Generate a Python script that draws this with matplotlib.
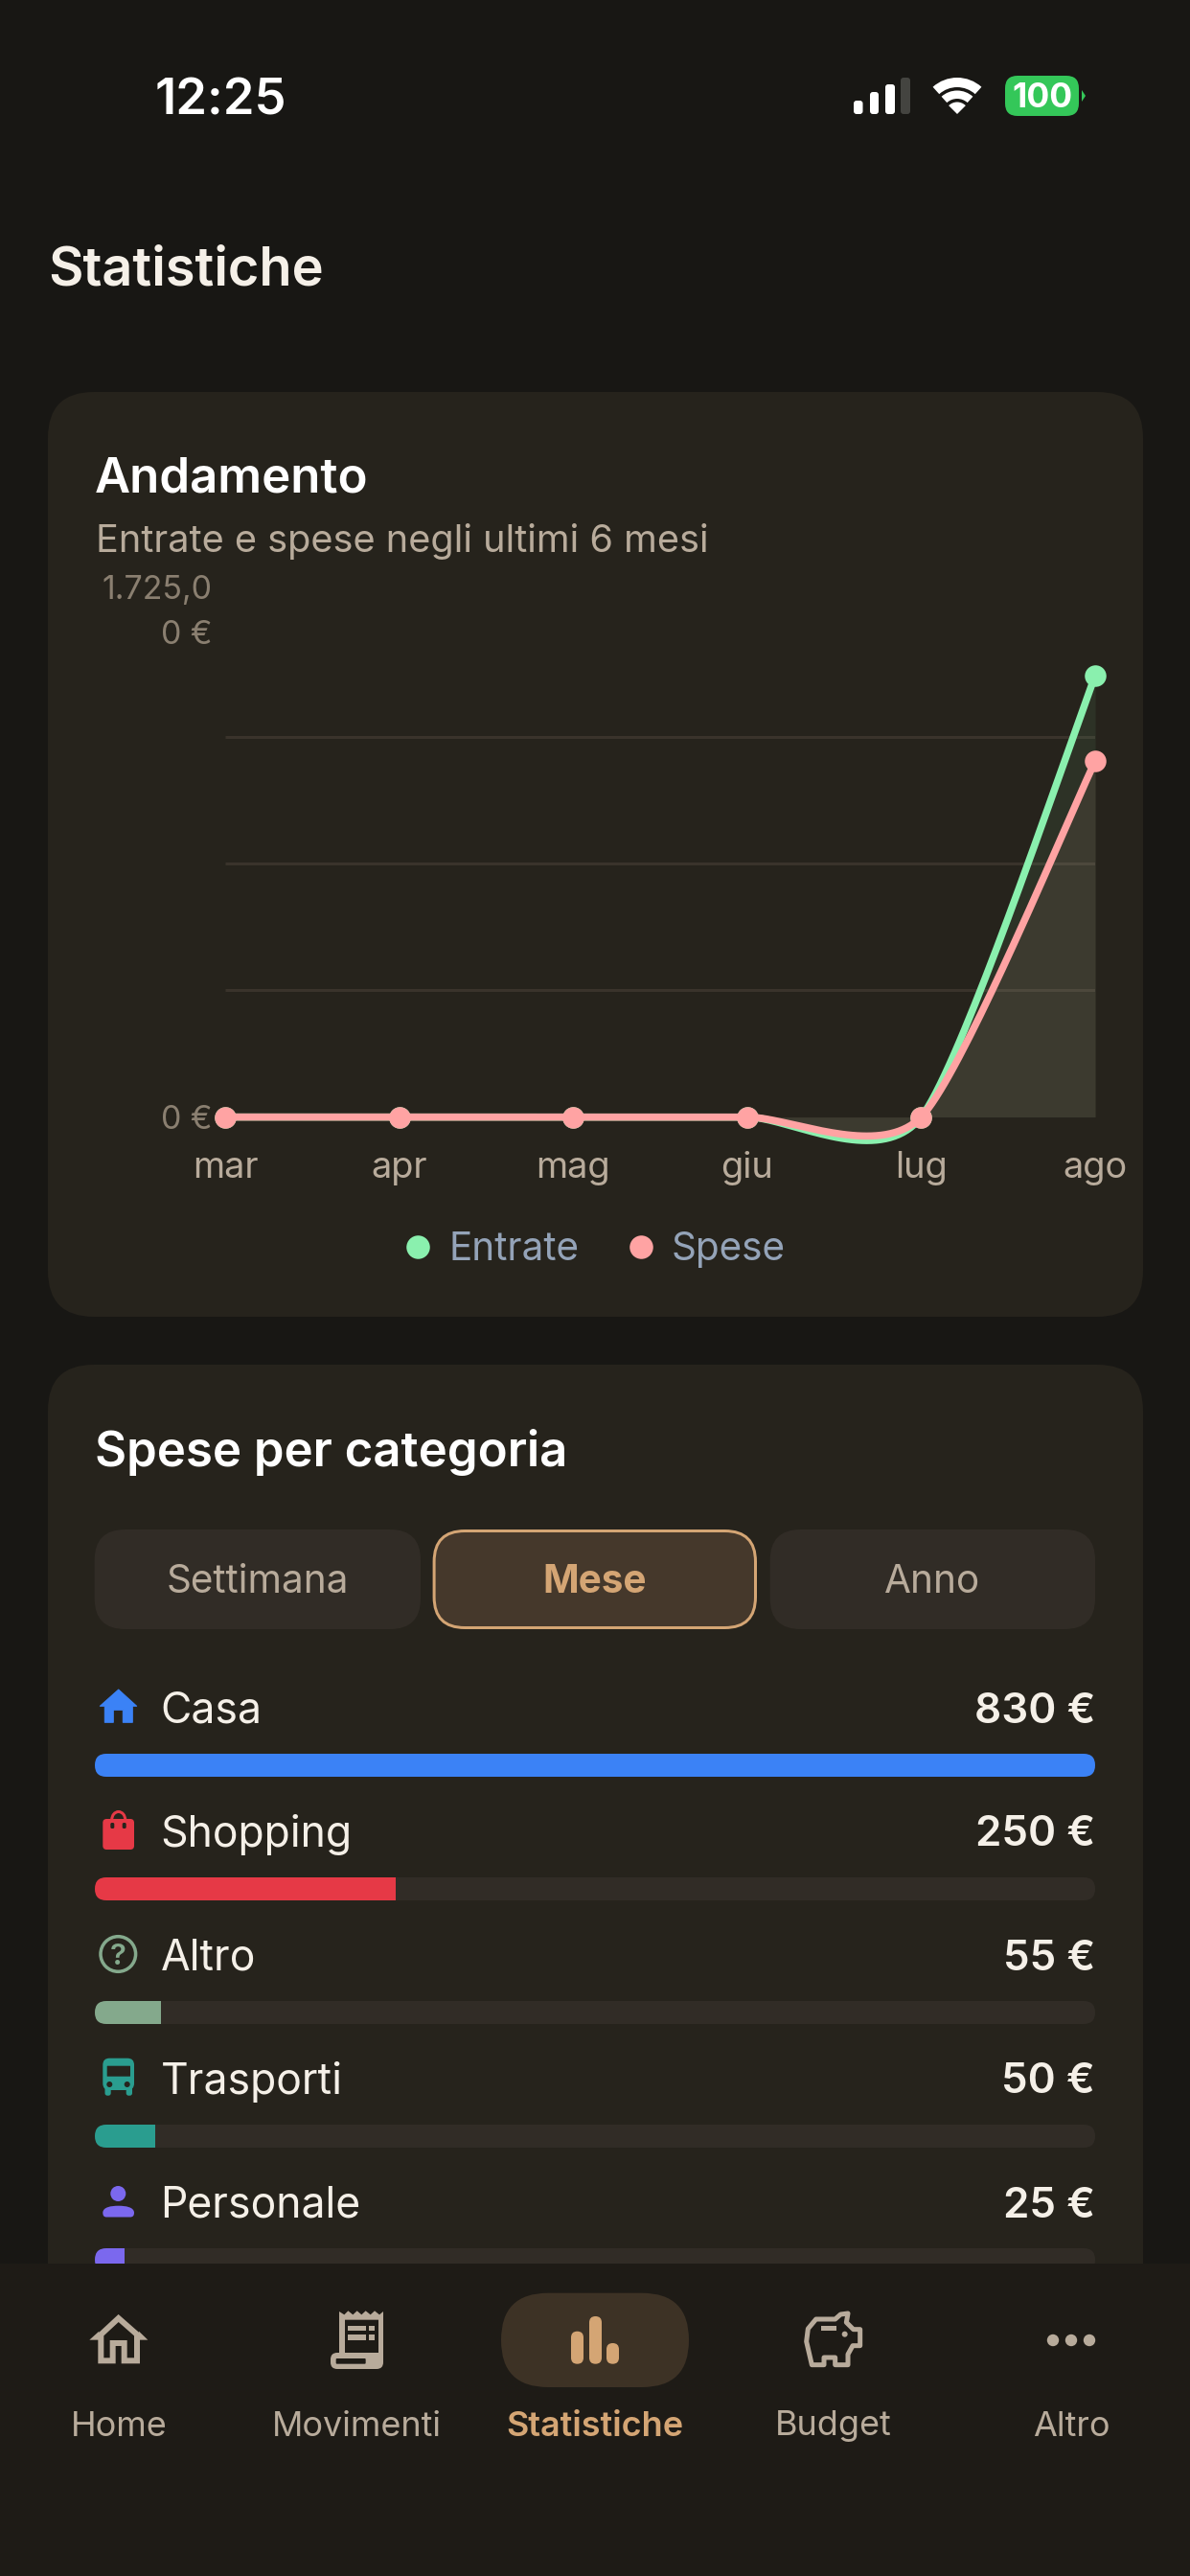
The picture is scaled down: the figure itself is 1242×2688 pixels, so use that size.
import numpy as np
import matplotlib
matplotlib.use("Agg")
import matplotlib.pyplot as plt
from matplotlib.patches import FancyBboxPatch, Circle, Polygon, Wedge, Rectangle, PathPatch
from matplotlib.path import Path
from matplotlib.lines import Line2D
from matplotlib.patches import Ellipse
from matplotlib.transforms import ScaledTranslation

# ---------- data ----------
months = ["mar", "apr", "mag", "giu", "lug", "ago"]
entrate = [0, 0, 0, 0, 0, 1500]
spese = [0, 0, 0, 0, 0, 1210]
y_max = 1725
y_labels = {0: "0 €", 1725: "1.725,0\n0 €"}
categories = ["Casa", "Shopping", "Altro", "Trasporti", "Personale"]
amounts = [830, 250, 55, 50, 25]
cat_colors = ["#3B82F6", "#E63946", "#84A98C", "#2A9D8F", "#7B68EE"]
periods = ["Settimana", "Mese", "Anno"]
nav_labels = ["Home", "Movimenti", "Statistiche", "Budget", "Altro"]

# ---------- palette ----------
BG = "#181714"; CARD = "#26231C"; TRACK = "#312C26"; NAV = "#1E1B16"
CREAM = "#F5F0E8"; MUTED = "#B8AB9B"; DIM = "#8A7F70"; ACCENT = "#D4A574"
GREEN = "#8AF0AE"; PINK = "#FFA3A3"; SLATE = "#94A3B8"; GRID = "#3A332B"

W, H = 1242, 2688
plt.rcParams["font.family"] = ["Inter", "DejaVu Sans"]
fig = plt.figure(figsize=(W / 100, H / 100), dpi=100, facecolor=BG)

def px(v):
    return v * 0.72

def axes_px(x0, y0, x1, y1, **kw):
    return fig.add_axes([x0 / W, 1 - y1 / H, (x1 - x0) / W, (y1 - y0) / H], **kw)

def ui_axes(z):
    a = axes_px(0, 0, W, H, zorder=z)
    a.set_xlim(0, W); a.set_ylim(H, 0); a.axis("off")
    a.patch.set_alpha(0)
    return a

def rrect(a, x0, y0, x1, y1, r, fc, ec="none", lw=0, z=1):
    p = FancyBboxPatch((x0 + r, y0 + r), x1 - x0 - 2 * r, y1 - y0 - 2 * r,
                       boxstyle=f"round,pad={r},rounding_size={r}", fc=fc, ec=ec, lw=lw, zorder=z)
    a.add_patch(p)
    return p

def label(a, x, y, s, size, color, weight=400, ha="left", z=5):
    return a.text(x, y, s, fontsize=px(size), color=color, fontweight=weight, ha=ha, va="baseline", zorder=z)

ui = ui_axes(0)

# ---------- status bar ----------
label(ui, 162, 119, "12:25", 52.5, "#FFFFFF", 600)
for (x0, x1, top, col) in [(891, 900.5, 105, "#FFFFFF"), (908, 917, 96, "#FFFFFF"),
                           (924, 934, 88, "#FFFFFF"), (940, 950, 81, "#444440")]:
    rrect(ui, x0, top, x1, 119, 3, col)
for r0, r1 in [(28, 38), (16, 24.5)]:
    ui.add_patch(Wedge((999, 119), r1, 228, 312, width=r1 - r0, fc="#FFFFFF", ec="none"))
ui.add_patch(Wedge((999, 119), 12.5, 225, 315, fc="#FFFFFF", ec="none"))
rrect(ui, 1049, 79, 1126, 121, 13, "#34C759")
ui.add_patch(Polygon([(1129, 94), (1133, 100), (1129, 106)], fc="#34C759", ec="none"))
label(ui, 1087.5, 112.5, "100", 35.5, "#FFFFFF", 700, ha="center")

# ---------- header and cards ----------
label(ui, 50, 297, "Statistiche", 56, CREAM, 600)
rrect(ui, 50, 409, 1193, 1374, 48, CARD)
rrect(ui, 50, 1424, 1193, 2500, 48, CARD)
label(ui, 99, 513, "Andamento", 51, "#FFFFFF", 600)
label(ui, 100, 576.5, "Entrate e spese negli ultimi 6 mesi", 39.7, MUTED)

# ---------- line chart ----------
CHART_X0, CHART_X1, CHART_TOP, CHART_BASE = 235, 1143, 636.4, 1165.6
ax = axes_px(CHART_X0, CHART_TOP, CHART_X1, CHART_BASE, zorder=1)
ax.patch.set_alpha(0)
ax.set_xlim(0, len(months) - 1)
ax.set_ylim(0, y_max)
for s in ax.spines.values():
    s.set_visible(False)

def smooth(values, c=0.12, n=40):
    """Cubic bezier through the data points, tangent = c * (next - prev)."""
    xs = np.arange(len(values), dtype=float)
    ys = np.asarray(values, dtype=float)
    out_x, out_y = [], []
    for i in range(len(ys) - 1):
        pi, ni = max(i - 1, 0), min(i + 2, len(ys) - 1)
        p0 = (xs[i], ys[i]); p3 = (xs[i + 1], ys[i + 1])
        p1 = (p0[0] + c * (xs[i + 1] - xs[pi]), p0[1] + c * (ys[i + 1] - ys[pi]))
        p2 = (p3[0] - c * (xs[ni] - xs[i]), p3[1] - c * (ys[ni] - ys[i]))
        t = np.linspace(0, 1, n)
        b = lambda a0, a1, a2, a3: (1 - t) ** 3 * a0 + 3 * (1 - t) ** 2 * t * a1 + 3 * (1 - t) * t ** 2 * a2 + t ** 3 * a3
        out_x.append(b(p0[0], p1[0], p2[0], p3[0])); out_y.append(b(p0[1], p1[1], p2[1], p3[1]))
    return np.concatenate(out_x), np.concatenate(out_y)

idx = np.arange(len(months))
for g in np.arange(1, 4) * y_max / 4:
    ax.plot([idx[0], idx[-1]], [g, g], color=GRID, lw=px(3), zorder=1, solid_capstyle="butt")
for vals, col, z in [(entrate, GREEN, 3), (spese, PINK, 4)]:
    sx, sy = smooth(vals)
    ax.fill_between(sx, sy, 0, color=col, alpha=0.075, lw=0, zorder=2, clip_on=False)
    ax.plot(sx, sy, color=col, lw=px(7.5), zorder=z, clip_on=False, solid_capstyle="round")
    ax.plot(idx, vals, ls="", marker="o", ms=px(22.5), mfc=col, mec="none", zorder=z, clip_on=False)

ax.set_xticks(idx)
ax.set_xticklabels(months, color=MUTED, fontsize=px(38), va="baseline")
ax.tick_params(axis="x", length=0, pad=px(63))
ax.set_yticks(list(y_labels))
ax.set_yticklabels(list(y_labels.values()), color=DIM, fontsize=px(34), ha="right",
                   va="center", linespacing=1.62)
ax.tick_params(axis="y", length=0, pad=px(14))
shift = ScaledTranslation(0, -px(3) / 72, fig.dpi_scale_trans)
for t in ax.get_yticklabels():
    t.set_transform(t.get_transform() + shift)
handles = [Line2D([], [], ls="", marker="o", ms=px(24.5), mfc=GREEN, mec="none"),
           Line2D([], [], ls="", marker="o", ms=px(24.5), mfc=PINK, mec="none")]
leg = ax.legend(handles, ["Entrate", "Spese"], ncol=2, frameon=False, loc="center",
                bbox_to_anchor=((621 - CHART_X0) / (CHART_X1 - CHART_X0), (CHART_BASE - 1304) / (CHART_BASE - CHART_TOP)),
                prop={"size": px(40.5)}, labelcolor=SLATE, handlelength=0.7, handletextpad=0.45, columnspacing=1.23,
                borderaxespad=0, borderpad=0)

# ---------- period selector ----------
label(ui, 99, 1529.5, "Spese per categoria", 51, "#FFFFFF", 600)
btn = [(98.7, 439), (451.6, 790), (803.7, 1143)]
for i, (name, (x0, x1)) in enumerate(zip(periods, btn)):
    active = name == "Mese"
    rrect(ui, x0 + (1.5 if active else 0), 1597.5 if active else 1596, x1 - (1.5 if active else 0),
          1698.5 if active else 1700, 32, "#45382B" if active else TRACK,
          ec=ACCENT if active else "none", lw=px(3) if active else 0)
    label(ui, (x0 + x1) / 2, 1662, name, 40.5, ACCENT if active else MUTED, 700 if active else 400, ha="center")

# ---------- category bars ----------
BAR_X0, BAR_X1, ROW0, ROW_STEP, BAR_H = 99, 1143, 1830, 129, 24
bx = axes_px(BAR_X0, ROW0 + BAR_H / 2 - ROW_STEP / 2, BAR_X1, ROW0 + BAR_H / 2 + ROW_STEP * (len(amounts) - 0.5), zorder=1)
bx.patch.set_alpha(0)
bx.axis("off")
bx.set_xlim(0, max(amounts))
bx.set_ylim(len(amounts) - 0.5, -0.5)
for i, (cat, amt, col) in enumerate(zip(categories, amounts, cat_colors)):
    top = ROW0 + i * ROW_STEP
    track = rrect(ui, BAR_X0, top, BAR_X1, top + BAR_H, BAR_H / 2, TRACK)
    bars = bx.barh([i], [amt], height=BAR_H / ROW_STEP, color=col, lw=0)
    bars[0].set_clip_path(track)
    base = top - 32.5
    label(ui, 167.5, base, cat, 44.5, CREAM)
    label(ui, 1143, base, f"{amt} €", 44, CREAM, 600, ha="right")

# icons of the categories
BLUE, RED, SAGE, TEAL, VIOLET = cat_colors
ui.add_patch(Polygon([(123.7, 1763), (142.7, 1780.3), (138.3, 1780.3), (138.3, 1797.3), (128.3, 1797.3), (128.3, 1784.3),
                      (118.3, 1784.3), (118.3, 1797.3), (109.3, 1797.3), (109.3, 1780.3), (104.3, 1780.3)],
                     fc=BLUE, ec=BLUE, lw=px(1), joinstyle="round"))
rrect(ui, 107.3, 1898, 140, 1930, 4, RED)
ui.add_patch(Ellipse((123.7, 1899), 14, 17, fc="none", ec=RED, lw=px(3)))
for cx in (117.3, 129.7):
    rrect(ui, cx - 2, 1902, cx + 2, 1908, 1.5, CARD, z=2)
ui.add_patch(Circle((123.3, 2039), 18.3, fc="none", ec=SAGE, lw=px(3.5)))
label(ui, 123.3, 2050, "?", 31, SAGE, 600, ha="center")
rrect(ui, 107.3, 2147.7, 140, 2181, 7, TEAL)
rrect(ui, 109.5, 2176, 115.7, 2186.7, 2.5, TEAL)
rrect(ui, 131.7, 2176, 138, 2186.7, 2.5, TEAL)
rrect(ui, 111.7, 2155.7, 136, 2166.7, 0.5, CARD, z=2)
for cx in (114.3, 132.7):
    ui.add_patch(Circle((cx, 2175), 3, fc=CARD, ec="none", zorder=2))
ui.add_patch(Circle((123.3, 2289), 8, fc=VIOLET, ec="none"))
body = Path([(107.3, 2309), (107.3, 2303), (116, 2301.7), (123.7, 2301.7), (131, 2301.7), (140, 2303), (140, 2309),
             (140, 2313.5), (136, 2313.5), (111, 2313.5), (107.3, 2313.5), (107.3, 2309)],
            [Path.MOVETO, Path.CURVE4, Path.CURVE4, Path.CURVE4, Path.CURVE4, Path.CURVE4, Path.CURVE4,
             Path.CURVE3, Path.CURVE3, Path.LINETO, Path.CURVE3, Path.CURVE3])
ui.add_patch(PathPatch(body, fc=VIOLET, ec="none"))

# ---------- navigation bar ----------
nav = ui_axes(2)
NAV_TOP = 2362
nav.add_patch(Rectangle((0, NAV_TOP), W, H - NAV_TOP, fc=NAV, ec="none"))
rrect(nav, 523, 2392.7, 719, 2491, 49, "#3D3225", z=2)
for x0, top in [(596, 2432.7), (615, 2417), (633, 2445)]:
    rrect(nav, x0, top, x0 + 13, 2466.7, 6.5, ACCENT, z=3)
nav_x = [124, 372, 621, 870, 1118]
for name, x in zip(nav_labels, nav_x):
    label(nav, x, 2541.5, name, 36, ACCENT if name == "Statistiche" else MUTED, 600 if name == "Statistiche" else 400, ha="center")

def zoomed(pts, ox, oy):
    return [(ox + a / 3, oy + b / 3) for a, b in pts]

ICON_LW = px(6)
# home
nav.add_patch(Polygon(zoomed([(76, 190), (76, 108), (131, 57), (189, 108), (189, 190), (149, 190), (149, 135), (113, 135), (113, 190)], 80, 2400),
                      closed=True, fc="none", ec=MUTED, lw=ICON_LW, joinstyle="miter", zorder=3))
nav.add_patch(Polygon(zoomed([(40, 125), (70, 98), (70, 125)], 80, 2400), fc=MUTED, ec="none", zorder=3))
nav.add_patch(Polygon(zoomed([(223, 125), (195, 98), (195, 125)], 80, 2400), fc=MUTED, ec="none", zorder=3))
# receipt
teeth = [(822, 36), (838, 46), (850, 34), (865, 46), (878, 34), (892, 46), (905, 34), (920, 46), (933, 34), (948, 46), (960, 36), (960, 62), (822, 62)]
nav.add_patch(Polygon(zoomed(teeth, 80, 2400), fc=MUTED, ec="none", zorder=3))
nav.add_patch(Rectangle((80 + 822 / 3, 2400 + 50 / 3), 18 / 3, 125 / 3, fc=MUTED, ec="none", zorder=3))
nav.add_patch(Rectangle((80 + 945 / 3, 2400 + 50 / 3), 15 / 3, 145 / 3, fc=MUTED, ec="none", zorder=3))
rrect(nav, 80 + 795 / 3, 2400 + 165 / 3, 80 + 960 / 3, 2400 + 216 / 3, 7, MUTED, z=3)
rrect(nav, 80 + 812 / 3, 2400 + 183 / 3, 80 + 905 / 3, 2400 + 200 / 3, 1, NAV, z=4)
nav.add_patch(Rectangle((80 + 905 / 3, 2400 + 165 / 3), 40 / 3, 18 / 3, fc=MUTED, ec="none", zorder=3))
nav.add_patch(Rectangle((80 + 840 / 3, 2400 + 62 / 3), 105 / 3, 103 / 3, fc=NAV, ec="none", zorder=2.5))
for (a, b, c, d) in [(850, 80, 905, 97), (850, 107, 905, 125), (915, 80, 933, 97), (915, 107, 933, 125)]:
    nav.add_patch(Rectangle((80 + a / 3, 2400 + b / 3), (c - a) / 3, (d - b) / 3, fc=MUTED, ec="none", zorder=4))
# piggy bank
pig = zoomed([(65, 130), (70, 90), (95, 60), (155, 60), (172, 45), (195, 42), (190, 70), (212, 92), (233, 92), (233, 143),
              (210, 143), (195, 170), (195, 203), (155, 203), (155, 180), (120, 180), (120, 203), (82, 203)], 820, 2400)
nav.add_patch(Polygon(pig, closed=True, fc="none", ec=MUTED, lw=px(5), joinstyle="round", zorder=3))
nav.add_patch(Rectangle((820 + 112 / 3, 2400 + 80 / 3), 46 / 3, 17 / 3, fc=MUTED, ec="none", zorder=3))
nav.add_patch(Circle((820 + 185 / 3, 2400 + 107 / 3), 3, fc=MUTED, ec="none", zorder=3))
# more
for cx in (1099, 1118, 1137):
    nav.add_patch(Circle((cx, 2442), 6.2, fc=MUTED, ec="none", zorder=3))

fig.savefig("out.png", dpi=100, facecolor=BG)
